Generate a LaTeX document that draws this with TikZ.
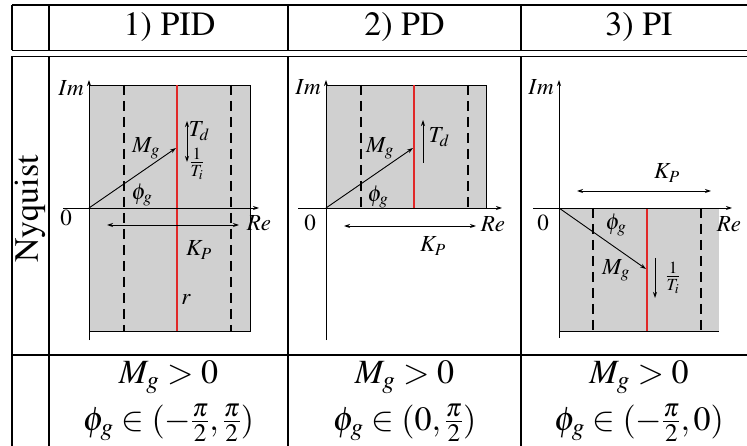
\documentclass[tikz,border=0pt]{standalone}
\usepackage{amsmath}
\usepackage[T1]{fontenc}
\usepackage{mathptmx}
\usetikzlibrary{arrows.meta}
\definecolor{boxgray}{RGB}{208,208,208}
\definecolor{redc}{RGB}{225,40,40}
\begin{document}
\begin{tikzpicture}[x=1pt,y=-1pt,
  grid/.style={line width=1.3pt},
  axisline/.style={line width=0.9pt,-{Stealth[length=6pt,width=4pt]}},
  plain/.style={line width=0.9pt},
  vec/.style={line width=0.9pt,-{Stealth[length=6pt,width=4pt]}},
  dvec/.style={line width=0.9pt,{Stealth[length=6pt,width=4pt]}-{Stealth[length=6pt,width=4pt]}},
  dashln/.style={line width=1.8pt,dash pattern=on 10pt off 6pt},
  redln/.style={line width=1.8pt,draw=redc},
  lbl/.style={font=\fontsize{23}{27}\selectfont,inner sep=0pt},
  big/.style={font=\fontsize{34}{38}\selectfont,inner sep=0pt}]
\useasboundingbox (0,0) rectangle (747,446);
% ---------- table ----------
\draw[grid] (12,5) -- (747,5);
\draw[grid] (12,50.5) -- (747,50.5);
\draw[grid] (12,56.5) -- (747,56.5);
\draw[grid] (12,355) -- (747,355);
\foreach \xx in {12,49,288,521}{
  \draw[grid] (\xx,5) -- (\xx,50.5);
  \draw[grid] (\xx,56.5) -- (\xx,446);
}
\node[big] (h1) at (169.5,27) {1) PID};
\node[big] (h2) at (404.5,27) {2) PD};
\node[big] (h3) at (639,27) {3) PI};
\node[big,rotate=90] (nyq) at (30,209) {Nyquist};
% bottom row
\foreach \cx/\cond/\nm in {168.5/{(-\tfrac{\pi}{2},\tfrac{\pi}{2})}/a,404.5/{(0,\tfrac{\pi}{2})}/b,639/{(-\tfrac{\pi}{2},0)}/c}{
  \node[big] (m\nm) at (\cx,377) {$M_g>0$};
  \node[big] (p\nm) at (\cx,423) {$\phi_g\in\cond$};
}
% ---------- plot 1 ----------
\coordinate (O1) at (89,208);
\fill[boxgray] (89,85) rectangle (250,331);
\draw[plain] (89,85) -- (250,85) -- (250,331) -- (89,331);
\draw[dashln] (124,85) -- (124,331);
\draw[dashln] (231,85) -- (231,331);
\draw[redln] (177,85) -- (177,331);
\coordinate (I1b) at (89,340); \coordinate (I1t) at (89,80);
\coordinate (R1l) at (63,208); \coordinate (R1r) at (259,208);
\draw[axisline] (I1b) -- (I1t);
\draw[axisline] (R1l) -- (R1r);
\coordinate (M1) at (176,148);
\draw[vec] (O1) -- (M1);
\coordinate (T1a) at (187,121); \coordinate (T1b) at (187,162);
\draw[dvec] (T1a) -- (T1b);
\coordinate (K1a) at (107,225); \coordinate (K1b) at (239,225);
\draw[dvec] (K1a) -- (K1b);
\node[lbl,anchor=east] (im1) at (84,88) {$Im$};
\node[lbl] (z1) at (66,218) {$0$};
\node[lbl] (re1) at (259,223) {$Re$};
\node[lbl] (mg1) at (146,148) {$M_g$};
\node[lbl] (ph1) at (142,195) {$\phi_g$};
\node[lbl] (td1) at (199,131) {$T_d$};
\node[lbl] (ti1) at (197,164) {$\frac{1}{T_i}$};
\node[lbl] (kp1) at (199,250) {$K_P$};
\node[lbl] (r1) at (186,300) {$r$};
% ---------- plot 2 ----------
\coordinate (O2) at (326,208);
\fill[boxgray] (326,85) rectangle (486,208);
\draw[plain] (326,85) -- (486,85) -- (486,208);
\draw[dashln] (361,85) -- (361,208);
\draw[dashln] (468,85) -- (468,208);
\draw[redln] (414,85) -- (414,208);
\coordinate (I2b) at (326,340); \coordinate (I2t) at (326,80);
\coordinate (R2l) at (298,208); \coordinate (R2r) at (502,208);
\draw[axisline] (I2b) -- (I2t);
\draw[axisline] (R2l) -- (R2r);
\coordinate (M2) at (413,148);
\draw[vec] (O2) -- (M2);
\coordinate (T2a) at (423,163); \coordinate (T2b) at (423,120);
\draw[vec] (T2a) -- (T2b);
\coordinate (K2a) at (344,226); \coordinate (K2b) at (476,226);
\draw[dvec] (K2a) -- (K2b);
\node[lbl,anchor=east] (im2) at (321,87) {$Im$};
\node[lbl] (z2) at (310,223) {$0$};
\node[lbl] (re2) at (493,224) {$Re$};
\node[lbl] (mg2) at (380,148) {$M_g$};
\node[lbl] (ph2) at (378,197) {$\phi_g$};
\node[lbl] (td2) at (439,137) {$T_d$};
\node[lbl] (kp2) at (433,246) {$K_P$};
% ---------- plot 3 ----------
\coordinate (O3) at (559,208);
\fill[boxgray] (559,208) rectangle (719,331);
\draw[plain] (559,331) -- (719,331);
\draw[dashln] (593,208) -- (593,331);
\draw[dashln] (701,208) -- (701,331);
\draw[redln] (647,208) -- (647,331);
\coordinate (I3b) at (559,338); \coordinate (I3t) at (559,80);
\coordinate (R3l) at (533,208); \coordinate (R3r) at (732,208);
\draw[axisline] (I3b) -- (I3t);
\draw[axisline] (R3l) -- (R3r);
\coordinate (M3) at (646,269);
\draw[vec] (O3) -- (M3);
\coordinate (T3a) at (655,258); \coordinate (T3b) at (655,298);
\draw[vec] (T3a) -- (T3b);
\coordinate (K3a) at (577,191); \coordinate (K3b) at (711,191);
\draw[dvec] (K3a) -- (K3b);
\node[lbl,anchor=east] (im3) at (554,87) {$Im$};
\node[lbl] (z3) at (543,223) {$0$};
\node[lbl] (re3) at (729,224) {$Re$};
\node[lbl] (ph3) at (616,225) {$\phi_g$};
\node[lbl] (mg3) at (616,270) {$M_g$};
\node[lbl] (ti3) at (673,278) {$\frac{1}{T_i}$};
\node[lbl] (kp3) at (667,173) {$K_P$};
\end{tikzpicture}
\end{document}
